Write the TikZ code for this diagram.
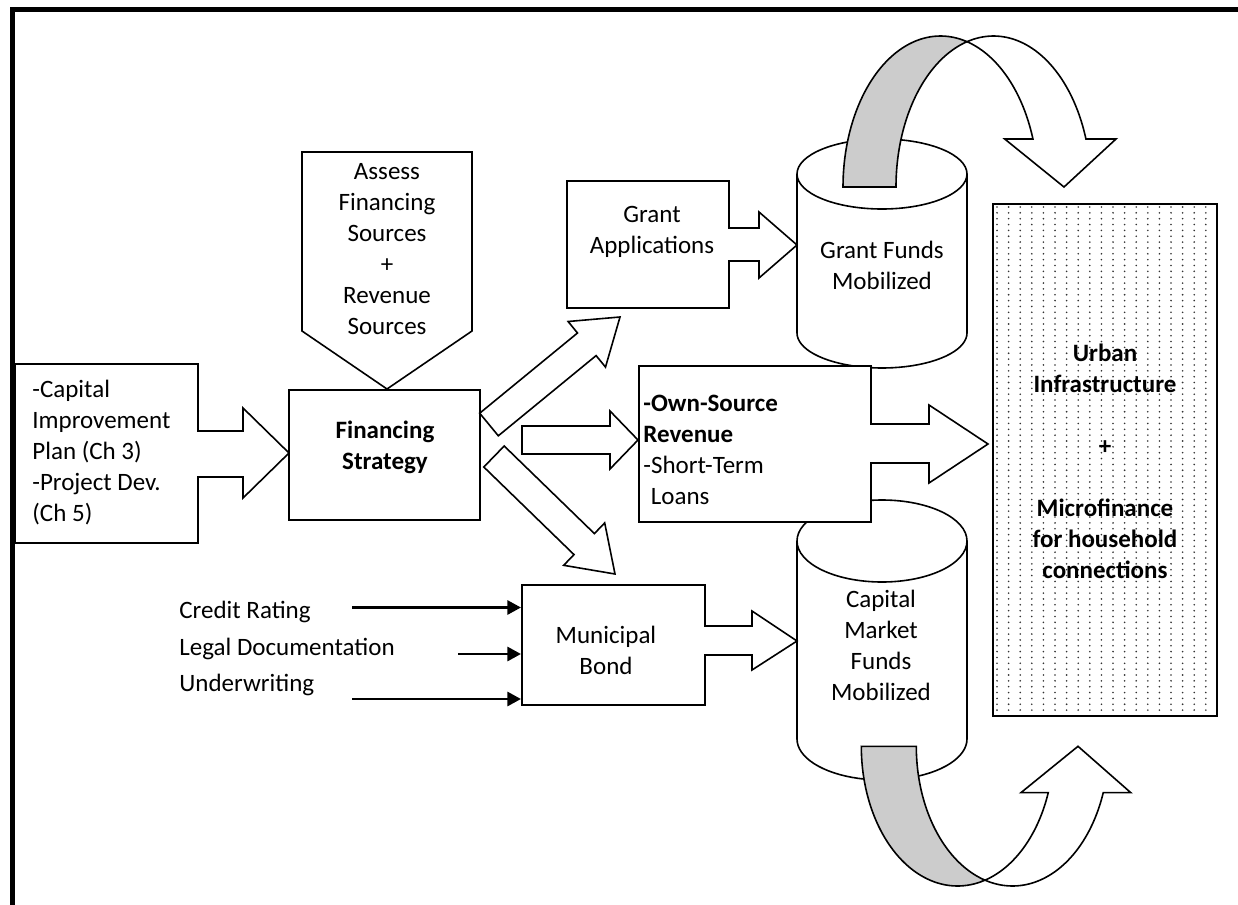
\documentclass[tikz,border=0pt]{standalone}
\usepackage{fontspec}
\setmainfont{Carlito}
\usetikzlibrary{arrows.meta,calc}
\begin{document}
\begin{tikzpicture}[x=0.5pt,y=-0.5pt,
  ln/.style={draw=black, line width=0.8pt, line join=miter, fill=white},
  band/.style={draw=black, line width=0.8pt, fill=black!20, line join=miter},
  txt/.style={font=\fontsize{12.5}{15.5}\selectfont, inner sep=0pt, align=center},
  btxt/.style={font=\fontsize{12.5}{15.5}\selectfont\bfseries, inner sep=0pt, align=center},
  ltxt/.style={font=\fontsize{12.5}{15.5}\selectfont, inner sep=0pt, align=left, anchor=west},
  thinarr/.style={line width=1.4pt, -{Triangle[length=6.8pt,width=7pt]}},
  dot/.style={fill=black!80},
]
\useasboundingbox (0,0) rectangle (1238,905);
\fill[white] (0,0) rectangle (1238,905);

% frame
\draw[line width=2.5pt] (12.5,905) -- (12.5,9.8) -- (1238,9.8);

% Grant Funds cylinder
\fill[white] (797,174) -- (797,333) -- plot[domain=180:0,samples=40] ({882+85*cos(\x)},{333+35*sin(\x)}) -- (967,174) -- cycle;
\draw[line width=0.8pt] (797,174) -- (797,333) -- plot[domain=180:0,samples=40] ({882+85*cos(\x)},{333+35*sin(\x)}) -- (967,174);
\draw[ln] (882,174) ellipse[x radius=85, y radius=35];

% Capital Market cylinder
\fill[white] (797,541) -- (797,739) -- plot[domain=180:0,samples=40] ({882+85*cos(\x)},{739+41*sin(\x)}) -- (967,541) -- cycle;
\draw[line width=0.8pt] (797,541) -- (797,739) -- plot[domain=180:0,samples=40] ({882+85*cos(\x)},{739+41*sin(\x)}) -- (967,541);
\draw[ln] (882,541) ellipse[x radius=85, y radius=41];

% top curved arrow
\path[band] (843,187) -- plot[domain=180:285.77,samples=50] ({940.5+97.5*cos(\x)},{187+151*sin(\x)})
  -- plot[domain=254.23:180,samples=50] ({993.5+97.5*cos(\x)},{187+151*sin(\x)}) -- cycle;
\path[ln] plot[domain=254.23:341.47,samples=50] ({993.5+97.5*cos(\x)},{187+151*sin(\x)})
  -- (1116,139) -- (1064,187) -- (1004.7,139)
  -- plot[domain=341.47:285.77,samples=50] ({940.5+97.5*cos(\x)},{187+151*sin(\x)}) -- cycle;

% bottom curved arrow
\path[band] (861.3,746.3) -- plot[domain=180:73.39,samples=50] ({957.5+96.2*cos(\x)},{746.3+139.7*sin(\x)})
  -- plot[domain=106.61:180,samples=50] ({1012.5+96.2*cos(\x)},{746.3+139.7*sin(\x)}) -- cycle;
\path[ln] plot[domain=106.61:19.36,samples=50] ({1012.5+96.2*cos(\x)},{746.3+139.7*sin(\x)})
  -- (1130.7,792.6) -- (1078,746.3) -- (1021,792.6)
  -- plot[domain=19.36:73.39,samples=50] ({957.5+96.2*cos(\x)},{746.3+139.7*sin(\x)}) -- cycle;

% dotted target box
\begin{scope}
  \clip (993,204) rectangle (1217,716);
  \foreach \j in {0,...,88} {
    \foreach \i in {0,...,19} {
      \pgfmathsetmacro{\dx}{997+11.6*\i}
      \pgfmathsetmacro{\dy}{207+5.85*\j}
      \fill[dot] (\dx,\dy) circle (0.45pt);
    }
  }
\end{scope}
\draw[line width=1pt] (993,204) rectangle (1217,716);

% left input box
\path[ln] (15,364) -- (198,364) -- (198,431) -- (243,431) -- (243,408) -- (289,453) -- (243,498) -- (243,477) -- (198,477) -- (198,543) -- (15,543) -- cycle;
% assess pentagon
\path[ln] (302,152) -- (472,152) -- (472,331) -- (387,389) -- (302,331) -- cycle;
% financing strategy box
\path[ln] (289,390) rectangle (480,520);
% grant applications
\path[ln] (567,181) -- (729,181) -- (729,228) -- (759,228) -- (759,212) -- (797,245) -- (759,278) -- (759,261) -- (729,261) -- (729,308) -- (567,308) -- cycle;
% own source
\path[ln] (639,366) -- (871,366) -- (871,424) -- (929,424) -- (929,405) -- (988,444) -- (929,483) -- (929,463) -- (871,463) -- (871,522) -- (639,522) -- cycle;
% municipal bond
\path[ln] (522,585) -- (705,585) -- (705,626) -- (752,626) -- (752,611) -- (797,641) -- (752,670) -- (752,655) -- (705,655) -- (705,705) -- (522,705) -- cycle;
% block arrows from financing strategy
\path[ln] (479.7,413.2) -- (577.5,333.0) -- (568.1,321.5) -- (620,317) -- (605.5,367.1) -- (596.1,355.6) -- (498.3,435.8) -- cycle;
\path[ln] (522,426) -- (610,426) -- (610,411) -- (638,440) -- (610,469) -- (610,454) -- (522,454) -- cycle;
\path[ln] (504.2,446.0) -- (594.4,533.6) -- (604.7,522.9) -- (615,574) -- (563.7,565.3) -- (574.0,554.6) -- (483.8,467.0) -- cycle;

% texts
\node[ltxt] (cip) at (32,452.5) {-Capital\\Improvement\\Plan (Ch 3)\\-Project Dev.\\(Ch 5)};
\node[txt] (assess) at (387,249) {Assess\\Financing\\Sources\\+\\Revenue\\Sources};
\node[btxt] (fs) at (385,447) {Financing\\Strategy};
\node[txt] (ga) at (652,232) {Grant\\Applications};
\node[txt] (gf) at (882,265) {Grant Funds\\Mobilized};
\node[ltxt] (osr) at (643,450) {\textbf{-Own-Source}\\\textbf{Revenue}\\-Short-Term\\\hspace*{0.3em}Loans};
\node[txt] (bond) at (606,650) {Municipal\\Bond};
\node[txt] (cm) at (881,645) {Capital\\Market\\Funds\\Mobilized};
\node[btxt] (ui) at (1105,461) {Urban\\Infrastructure\\[15.5pt]+\\[15.5pt]Microfinance\\for household\\connections};
\node[ltxt] (cr) at (179,612) {Credit Rating};
\node[ltxt] (ld) at (179,649) {Legal Documentation};
\node[ltxt] (uw) at (179,685) {Underwriting};

% thin input arrows
\coordinate (bondL) at (521,645);
\coordinate (crS) at (352,607.5);
\coordinate (ldS) at (458,654);
\coordinate (uwS) at (352,699);
\draw[thinarr] (crS) -- (crS -| bondL);
\draw[thinarr] (ldS) -- (ldS -| bondL);
\draw[thinarr] (uwS) -- (uwS -| bondL);
\end{tikzpicture}
\end{document}
